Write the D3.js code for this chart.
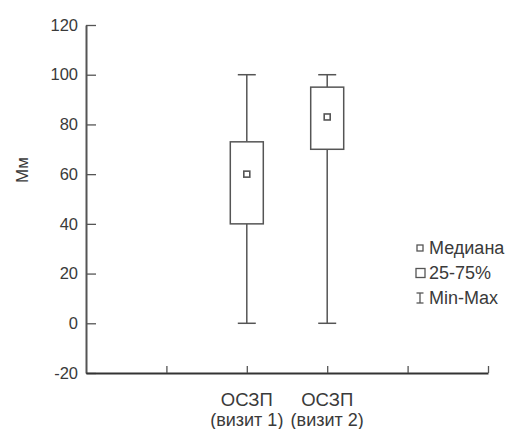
<!DOCTYPE html>
<html><head><meta charset="utf-8">
<script src="https://cdn.jsdelivr.net/npm/d3@7"></script>
<style>body{margin:0;background:#fff}svg{display:block}text{font-family:"Liberation Sans",Arial,sans-serif}</style>
</head><body><svg id="c" width="507" height="429"></svg>
<script>
const categories = ["ОСЗП|(визит 1)", "ОСЗП|(визит 2)"];
const catPos = [2, 3];
const minVals = [0, 0];
const q1Vals = [40, 70];
const medianVals = [60, 83];
const q3Vals = [73, 95];
const maxVals = [100, 100];
const yTicks = [-20, 0, 20, 40, 60, 80, 100, 120];
const xTicks = [1, 2, 3, 4, 5];
const legendLabels = ["Медиана", "25-75%", "Min-Max"];

const svg = d3.select("#c");
const y = d3.scaleLinear().domain([-20, 120]).range([373, 25]);
const x = d3.scaleLinear().domain([0, 5]).range([86, 488]);
const col = "#555";

const yAx = svg.append("g").attr("transform", "translate(86,0)")
  .call(d3.axisLeft(y).tickValues(yTicks).tickSizeInner(-10).tickSizeOuter(0).tickPadding(8).tickFormat(d => String(d)));
yAx.select(".domain").attr("stroke", col).attr("stroke-width", 2);
yAx.selectAll(".tick line").attr("stroke", col).attr("stroke-width", 1.3);
yAx.selectAll("text").attr("font-size", 16.5).attr("fill", "#3a3a3a").attr("font-family", '"Liberation Sans",Arial,sans-serif');

const xAx = svg.append("g").attr("transform", "translate(0,373)")
  .call(d3.axisBottom(x).tickValues(xTicks).tickSizeInner(-7).tickSizeOuter(0).tickFormat(""));
xAx.select(".domain").attr("stroke", "#333").attr("stroke-width", 2);
xAx.selectAll(".tick line").attr("stroke", col).attr("stroke-width", 1.3);

svg.append("text").attr("transform", "translate(28,170) rotate(-90)")
  .attr("text-anchor", "middle").attr("font-size", 17).attr("fill", "#3a3a3a").text("Мм");

const bw = 33, cw = 18;
categories.forEach((c, i) => {
  const cx = x(catPos[i]);
  const g = svg.append("g").attr("stroke", col).attr("fill", "none").attr("stroke-width", 1.5);
  g.append("line").attr("x1", cx).attr("x2", cx).attr("y1", y(maxVals[i])).attr("y2", y(q3Vals[i]));
  g.append("line").attr("x1", cx).attr("x2", cx).attr("y1", y(q1Vals[i])).attr("y2", y(minVals[i]));
  g.append("line").attr("x1", cx - cw / 2).attr("x2", cx + cw / 2).attr("y1", y(maxVals[i])).attr("y2", y(maxVals[i]));
  g.append("line").attr("x1", cx - cw / 2).attr("x2", cx + cw / 2).attr("y1", y(minVals[i])).attr("y2", y(minVals[i]));
  g.append("rect").attr("x", cx - bw / 2).attr("y", y(q3Vals[i])).attr("width", bw)
    .attr("height", y(q1Vals[i]) - y(q3Vals[i])).attr("fill", "#fff");
  g.append("rect").attr("x", cx - 3).attr("y", y(medianVals[i]) - 3).attr("width", 6).attr("height", 6)
    .attr("stroke-width", 1.6);
  const parts = c.split("|");
  svg.append("text").attr("x", cx).attr("y", 406).attr("text-anchor", "middle")
    .attr("font-size", 18.5).attr("fill", "#3a3a3a").text(parts[0]);
  svg.append("text").attr("x", cx).attr("y", 426).attr("text-anchor", "middle")
    .attr("font-size", 18).attr("fill", "#3a3a3a").text(parts[1]);
});

const lg = svg.append("g");
legendLabels.forEach((t, i) => {
  const cy = 248 + i * 25;
  const mg = lg.append("g").attr("stroke", col).attr("fill", "none").attr("stroke-width", 1.3);
  if (i === 0) mg.append("rect").attr("x", 417).attr("y", cy - 3).attr("width", 6).attr("height", 6);
  if (i === 1) mg.append("rect").attr("x", 416).attr("y", cy - 4.5).attr("width", 9).attr("height", 9);
  if (i === 2) {
    mg.append("line").attr("x1", 420).attr("x2", 420).attr("y1", cy - 5).attr("y2", cy + 5);
    mg.append("line").attr("x1", 416.5).attr("x2", 423.5).attr("y1", cy - 5).attr("y2", cy - 5);
    mg.append("line").attr("x1", 416.5).attr("x2", 423.5).attr("y1", cy + 5).attr("y2", cy + 5);
  }
  lg.append("text").attr("x", 429).attr("y", cy + 5.5).attr("font-size", 18).attr("fill", "#3a3a3a").text(t);
});
</script></body></html>
